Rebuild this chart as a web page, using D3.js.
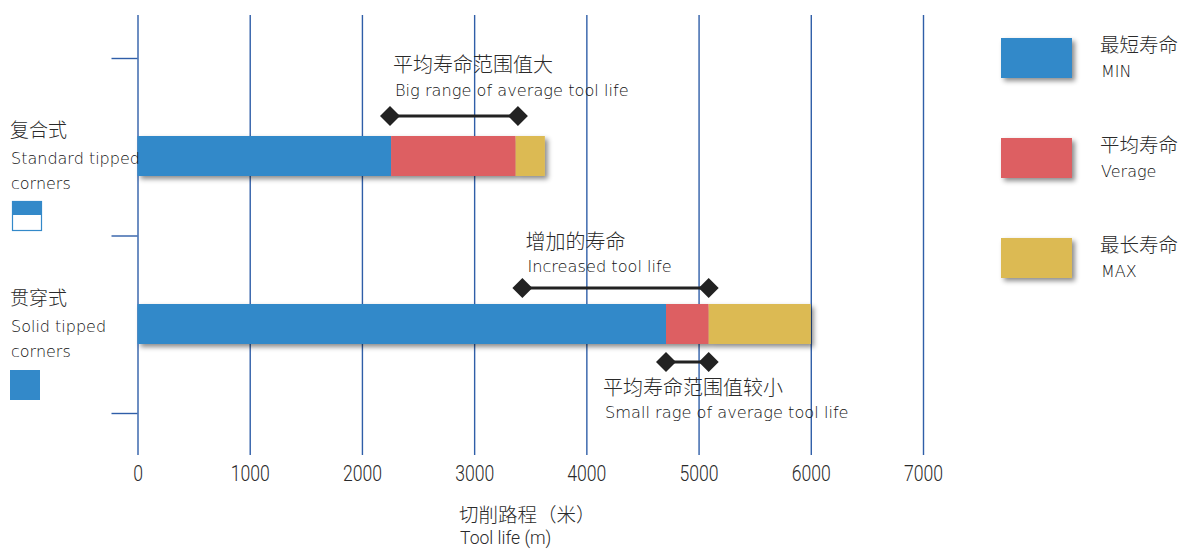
<!DOCTYPE html>
<html>
<head>
<meta charset="utf-8">
<script src="https://cdn.jsdelivr.net/npm/d3@7"></script>
<style>
  body { margin: 0; background: #fff; }
  .zh { font-family: "Noto Sans CJK SC", sans-serif; font-weight: 300; fill: #2a2a2a; }
  .en { font-family: "DejaVu Sans", sans-serif; font-weight: 200; fill: #111; }
  .num { font-family: Roboto, sans-serif; font-weight: 300; fill: #2a2a2a; }
</style>
</head>
<body>
<svg class="chart"></svg>
<script>
// tool life per corner type (metres)
var categories = ["复合式", "贯穿式"];
var catEn1 = ["Standard tipped", "Solid tipped"];
var catEn2 = ["corners", "corners"];
var minLife = [2260, 4710];
var avgLife = [3370, 5090];
var maxLife = [3630, 6000];

var seriesZh = ["最短寿命", "平均寿命", "最长寿命"];
var seriesEn = ["MIN", "Verage", "MAX"];
var colors = ["#3389c9", "#dd5e62", "#dcba52"];

var xTicks = [0, 1000, 2000, 3000, 4000, 5000, 6000, 7000];

// range markers
var annoRow = ["复合式", "贯穿式", "贯穿式"];
var annoFrom = [2250, 3430, 4710];
var annoTo = [3390, 5090, 5090];
var annoZh = ["平均寿命范围值大", "增加的寿命", "平均寿命范围值较小"];
var annoEn = ["Big range of average tool life", "Increased tool life", "Small rage of average tool life"];

var width = 1186, height = 550;

var x = d3.scaleLinear().domain([0, 7000]).range([137.5, 923]);
var y = d3.scalePoint().domain(categories).range([156, 324]);
var yTick = d3.scaleLinear().domain([0, 2]).range([413, 58]);
var barH = 40;

var chart = d3.select(".chart").attr("width", width).attr("height", height);

var defs = chart.append("defs");
defs.append("filter").attr("id", "shadow")
    .attr("x", "-10%").attr("y", "-30%").attr("width", "130%").attr("height", "180%")
  .append("feDropShadow")
    .attr("dx", 3).attr("dy", 3).attr("stdDeviation", 2.5)
    .attr("flood-color", "#000").attr("flood-opacity", 0.45);

// vertical grid + tick labels
var xAxis = chart.append("g")
    .attr("transform", "translate(0,455)")
    .call(d3.axisBottom(x).tickValues(xTicks).tickSize(-440).tickPadding(10).tickFormat(d3.format("d")));
xAxis.select(".domain").remove();
xAxis.selectAll("line").attr("stroke", "#2f5ea8").attr("stroke-width", 1.4);
xAxis.selectAll("text").attr("class", "num").attr("font-size", 22).attr("fill", "#2a2a2a")
    .attr("transform", "scale(0.8,1)");

// left ticks
var yAxis = chart.append("g")
    .attr("transform", "translate(137.5,0)")
    .call(d3.axisLeft(yTick).ticks(2).tickSize(26).tickFormat(""));
yAxis.select(".domain").remove();
yAxis.selectAll("line").attr("stroke", "#2f5ea8").attr("stroke-width", 1.4);

// stacked bars
var rows = categories.map(function(c, i) {
  return [
    {cat: c, x0: 0, x1: minLife[i], k: 0},
    {cat: c, x0: minLife[i], x1: avgLife[i], k: 1},
    {cat: c, x0: avgLife[i], x1: maxLife[i], k: 2}
  ];
});

chart.append("g").selectAll("g")
    .data(rows)
    .enter()
    .append("g")
      .attr("filter", "url(#shadow)")
    .selectAll("rect")
    .data(function(d) { return d; })
    .enter()
    .append("rect")
      .attr("x", function(d) { return x(d.x0); })
      .attr("y", function(d) { return y(d.cat) - barH / 2; })
      .attr("width", function(d) { return x(d.x1) - x(d.x0); })
      .attr("height", barH)
      .attr("fill", function(d) { return colors[d.k]; });

// category labels on the left (drawn over the bars)
var cat = chart.append("g").selectAll("g")
    .data(categories)
    .enter()
    .append("g")
      .attr("transform", function(d) { return "translate(0," + y(d) + ")"; });

cat.append("text").attr("class", "zh")
    .attr("x", 10).attr("y", -26).attr("dy", "0.35em").attr("font-size", 19)
    .text(function(d) { return d; });
cat.append("text").attr("class", "en")
    .attr("x", 11).attr("y", 2).attr("dy", "0.35em").attr("font-size", 16)
    .text(function(d, i) { return catEn1[i]; });
cat.append("text").attr("class", "en")
    .attr("x", 11).attr("y", 27).attr("dy", "0.35em").attr("font-size", 16)
    .text(function(d, i) { return catEn2[i]; });

// small icons: first half filled, second full
cat.append("rect")
    .attr("x", function(d, i) { return i == 0 ? 12.5 : 10; })
    .attr("y", function(d, i) { return i == 0 ? 45.5 : 46; })
    .attr("width", function(d, i) { return i == 0 ? 29 : 30; })
    .attr("height", function(d, i) { return i == 0 ? 29 : 30; })
    .attr("fill", function(d, i) { return i == 0 ? "#fff" : "#3389c9"; })
    .attr("stroke", function(d, i) { return i == 0 ? "#3389c9" : "none"; })
    .attr("stroke-width", 1.2);
cat.filter(function(d, i) { return i == 0; }).append("rect")
    .attr("x", 12).attr("y", 45).attr("width", 30).attr("height", 14)
    .attr("fill", "#3389c9");

// range markers with labels
var annoYOff = [-40, -36, 38];
var annoZhOff = [-51, -46, 26];
var annoEnOff = [-26, -22, 50];
var annoTextX = [0, 0, -66];

var anno = chart.append("g").selectAll("g")
    .data(annoRow)
    .enter()
    .append("g")
      .attr("transform", function(d, i) { return "translate(0," + (y(d) + annoYOff[i]) + ")"; });

anno.append("line")
    .attr("x1", function(d, i) { return x(annoFrom[i]); })
    .attr("x2", function(d, i) { return x(annoTo[i]); })
    .attr("stroke", "#222").attr("stroke-width", 3);

var diamond = d3.symbol().type(d3.symbolSquare).size(200);
anno.selectAll("path")
    .data(function(d, i) { return [annoFrom[i], annoTo[i]]; })
    .enter()
    .append("path")
      .attr("d", diamond)
      .attr("fill", "#222")
      .attr("transform", function(v) { return "translate(" + x(v) + ",0) rotate(45)"; });

anno.append("text").attr("class", "zh")
    .attr("x", function(d, i) { return x(annoFrom[i]) + 3 + annoTextX[i]; })
    .attr("y", function(d, i) { return annoZhOff[i]; })
    .attr("dy", "0.35em").attr("font-size", 20)
    .text(function(d, i) { return annoZh[i]; });
anno.append("text").attr("class", "en")
    .attr("x", function(d, i) { return x(annoFrom[i]) + 5 + annoTextX[i]; })
    .attr("y", function(d, i) { return annoEnOff[i]; })
    .attr("dy", "0.35em").attr("font-size", 16.2)
    .text(function(d, i) { return annoEn[i]; });

// legend
var legend = chart.append("g").selectAll("g")
    .data(seriesZh)
    .enter()
    .append("g")
      .attr("transform", function(d, i) { return "translate(1001," + (38 + i * 100) + ")"; });

legend.append("rect")
    .attr("width", 71).attr("height", 40)
    .attr("fill", function(d, i) { return colors[i]; })
    .attr("filter", "url(#shadow)");
legend.append("text").attr("class", "zh")
    .attr("x", 99).attr("y", 7).attr("dy", "0.35em").attr("font-size", 19.5)
    .text(function(d) { return d; });
legend.append("text").attr("class", "en")
    .attr("x", 100).attr("y", 33).attr("dy", "0.35em").attr("font-size", 16)
    .text(function(d, i) { return seriesEn[i]; });

// axis title
chart.append("text").attr("class", "zh")
    .attr("x", 459).attr("y", 515).attr("dy", "0.35em").attr("font-size", 19.5)
    .text("切削路程（米）");
chart.append("g").attr("transform", "translate(460,538)")
  .append("text").attr("class", "num")
    .attr("dy", "0.35em").attr("font-size", 18.5)
    .attr("transform", "scale(0.95,1)")
    .text("Tool life (m)");
</script>
</body>
</html>
